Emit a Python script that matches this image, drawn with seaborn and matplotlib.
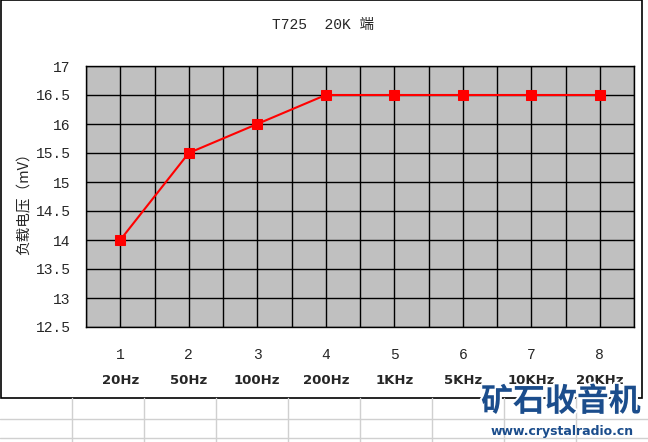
import matplotlib
matplotlib.use("Agg")
import matplotlib.pyplot as plt
import matplotlib.patheffects as pe
from matplotlib.lines import Line2D
from matplotlib.patches import Rectangle
import seaborn as sns
import pandas as pd
import numpy as np

# ---- data ----
categories = [1, 2, 3, 4, 5, 6, 7, 8]
freq_labels = ["20Hz", "50Hz", "100Hz", "200Hz", "1KHz", "5KHz", "10KHz", "20KHz"]
voltage = [14.0, 15.5, 16.0, 16.5, 16.5, 16.5, 16.5, 16.5]
y_ticks = [12.5, 13, 13.5, 14, 14.5, 15, 15.5, 16, 16.5, 17]
title = "T725  20K 端"
ylabel = "负载电压（mV）"

sns.set_style("white")
mono = ["Liberation Mono", "DejaVu Sans Mono", "Noto Sans CJK SC"]
cjk = ["Noto Sans CJK SC", "DejaVu Sans"]

W, H = 648, 442
fig = plt.figure(figsize=(W / 100, H / 100), dpi=100)
fig.patch.set_facecolor("white")

def fx(px):
    return px / W

def fy(py):
    return 1 - py / H

# spreadsheet grid below the chart
gcol = "#d0d0d0"
for yy in [419, 438]:
    fig.add_artist(Line2D([0, 1], [fy(yy), fy(yy)], color=gcol, lw=1))
for xx in [72, 144, 216, 288, 360, 432, 504, 576]:
    fig.add_artist(Line2D([fx(xx), fx(xx)], [fy(398), 0], color=gcol, lw=1))

# chart border
fig.add_artist(Rectangle((fx(1), fy(398)), fx(641), 398 / H, fill=False,
                         edgecolor="black", lw=1.2))

ax = fig.add_axes([fx(86), fy(327), fx(634 - 86), (327 - 66) / H])
ax.set_facecolor("#c0c0c0")

df = pd.DataFrame({"x": categories, "v": voltage})
sns.lineplot(data=df, x="x", y="v", ax=ax, color="#ff0000", lw=1.5,
             marker="s", markersize=7, markeredgecolor="#ff0000",
             markerfacecolor="#ff0000", zorder=5)

ax.set_xlim(0.5, 8.5)
ax.set_ylim(12.5, 17)
ax.set_xticks(categories)
ax.set_xticklabels([str(c) for c in categories], fontfamily=mono, fontsize=10.5)
ax.set_yticks(y_ticks)
ax.set_yticklabels([f"{t:g}" for t in y_ticks], fontfamily=mono, fontsize=10.5)
ax.set_xticks(np.arange(0.5, 8.6, 0.5), minor=True)
ax.grid(True, which="major", axis="both", color="black", lw=1)
ax.grid(True, which="minor", axis="x", color="black", lw=1)
ax.tick_params(axis="both", which="both", length=0)
ax.tick_params(axis="x", pad=15)
ax.tick_params(axis="y", pad=11)
for s in ax.spines.values():
    s.set_visible(True)
    s.set_color("black")
    s.set_linewidth(1)
ax.set_xlabel("")
ax.set_ylabel("")

# second row of x labels
trans = ax.get_xaxis_transform()
for c, lab in zip(categories, freq_labels):
    ax.text(c, -0.205, lab, transform=trans, ha="center", va="center",
            fontsize=9.5, fontweight="bold", family=["DejaVu Sans"])

fig.text(fx(323), fy(25), title, ha="center", va="center", fontsize=10.5, family=mono)
fig.text(fx(25), fy(200), ylabel, ha="center", va="center", rotation=90,
         fontsize=10.5, family=cjk)

# watermark
wm = "#1b4d8c"
fig.text(fx(561), fy(402), "矿石收音机", ha="center", va="center", fontsize=23,
         fontweight="bold", color=wm, family=cjk,
         path_effects=[pe.withStroke(linewidth=3, foreground="white")])
fig.text(fx(562), fy(431), "www.crystalradio.cn", ha="center", va="center",
         fontsize=9, fontweight="bold", color=wm, family=["DejaVu Sans"])

fig.savefig("out.png", dpi=100, facecolor="white")
